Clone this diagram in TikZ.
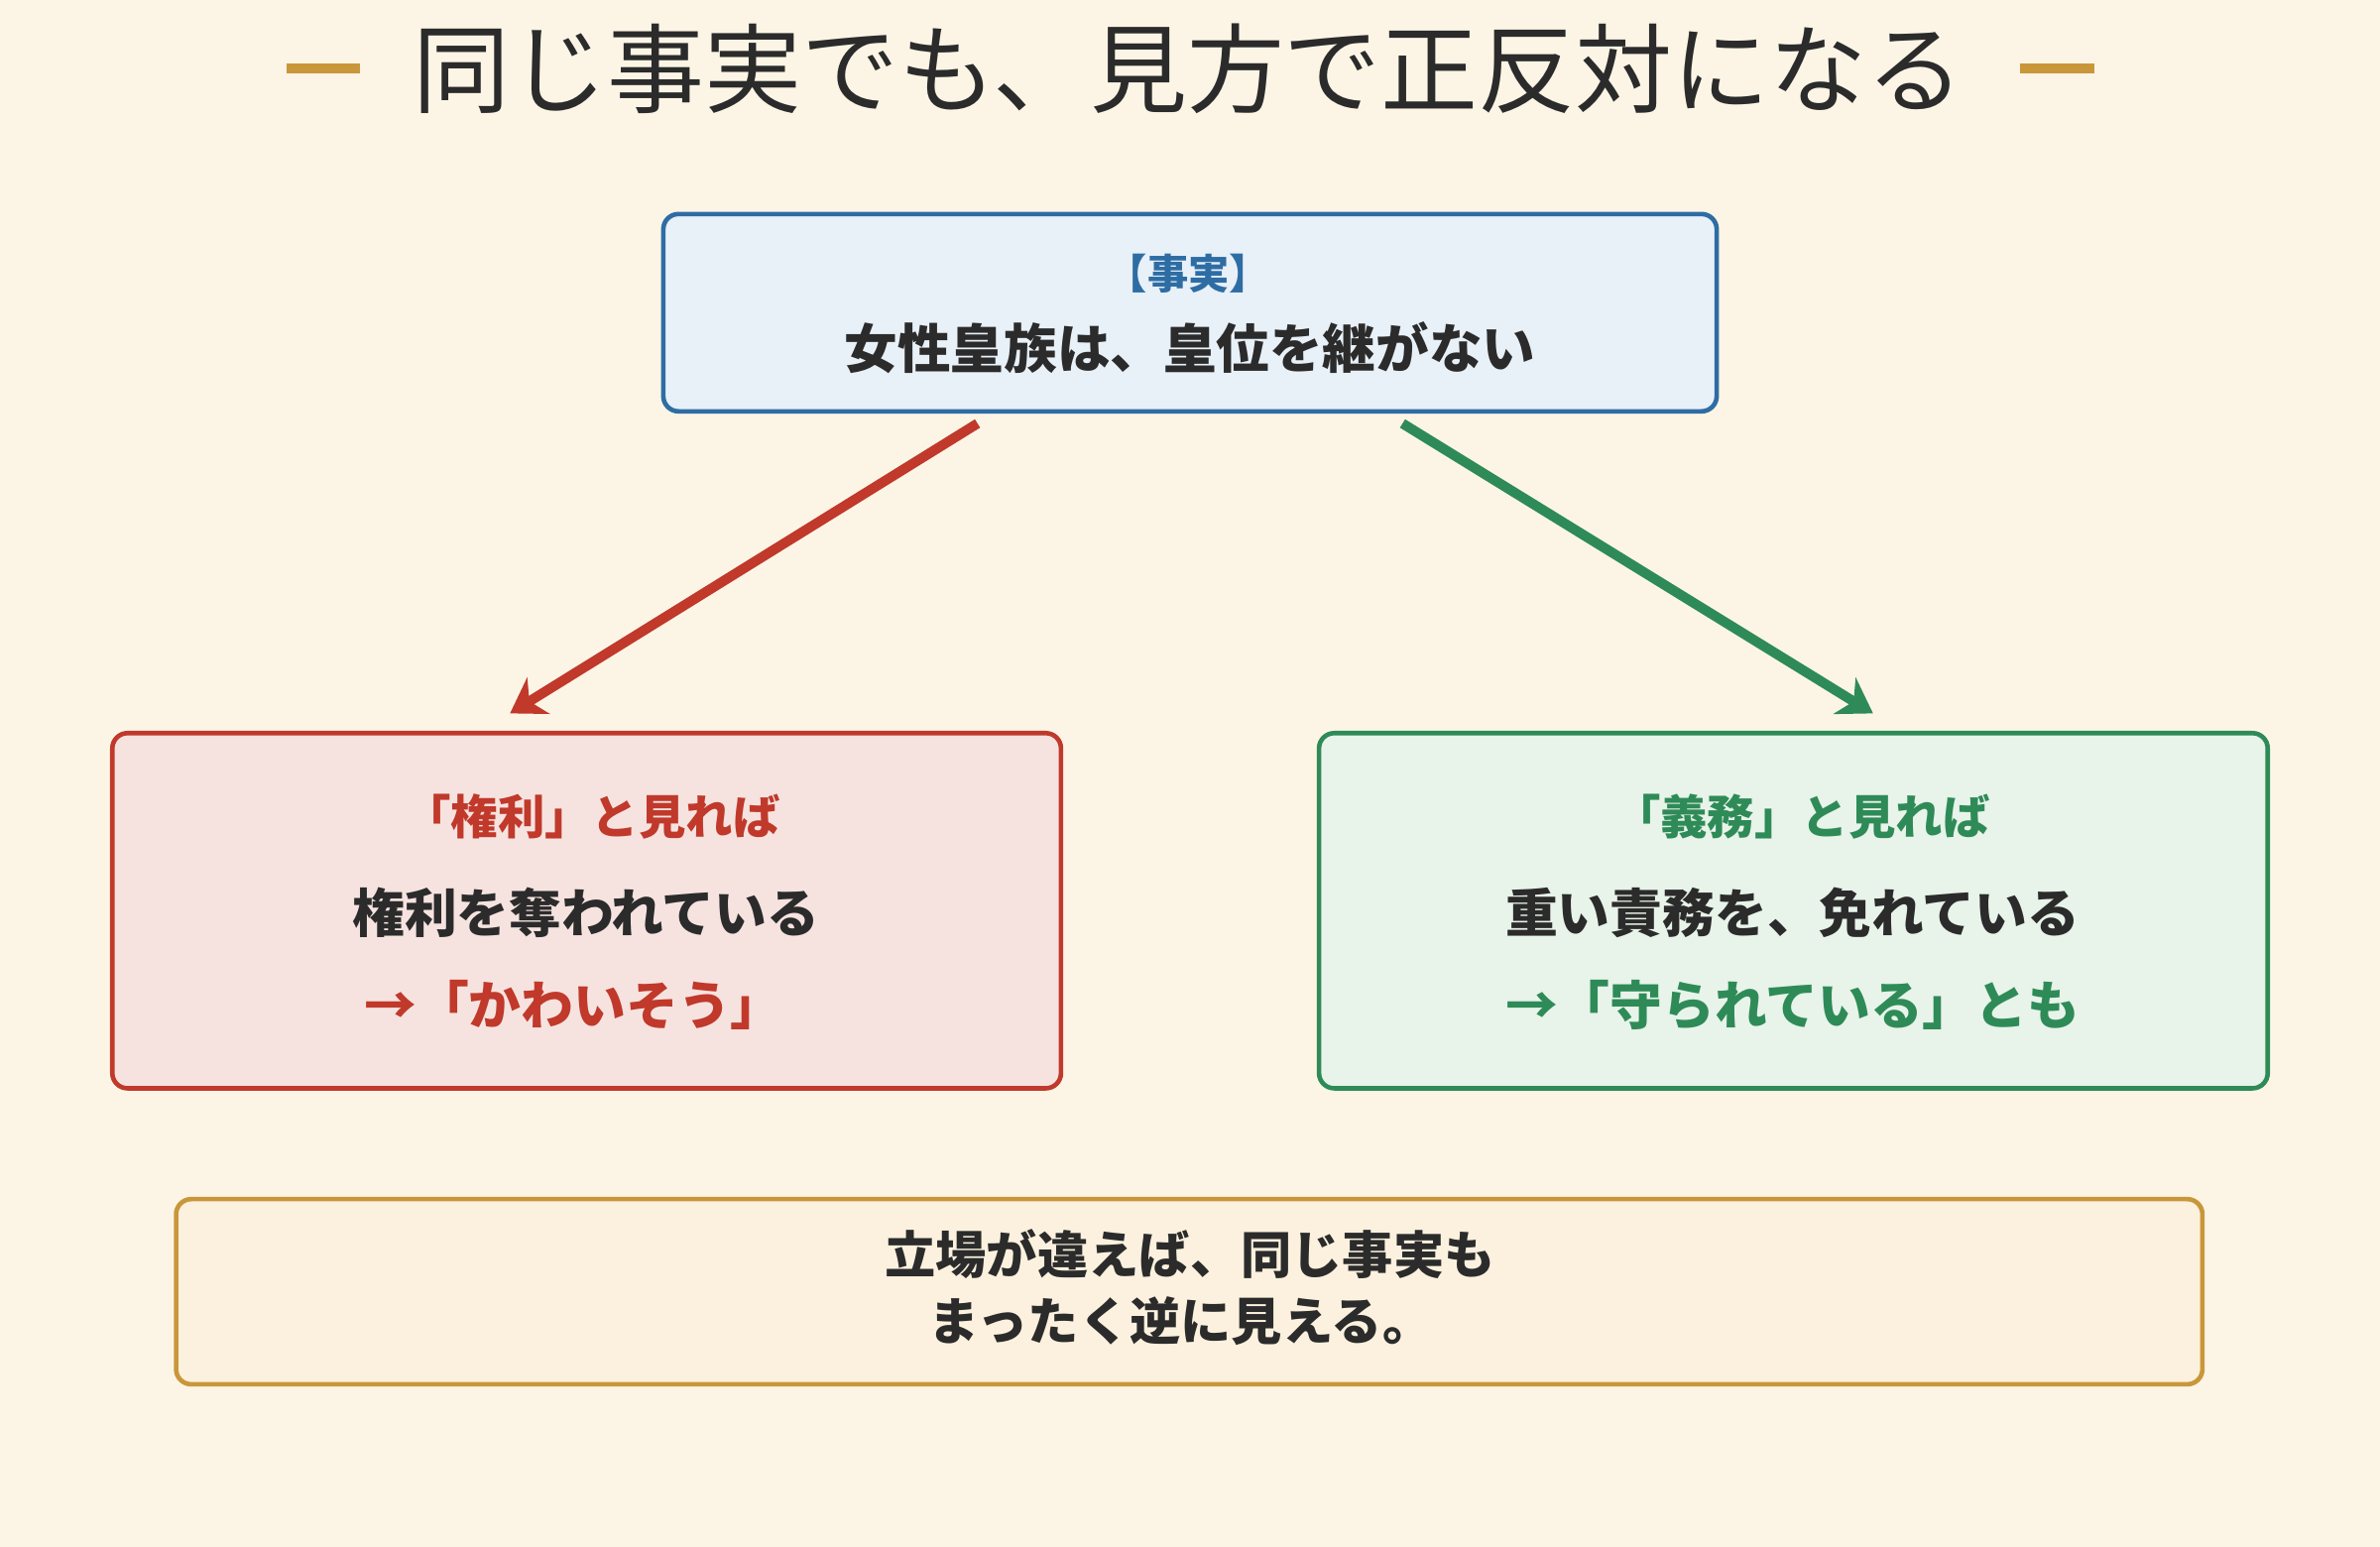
\documentclass[tikz,border=0pt]{standalone}
\usepackage{fontspec}
\setmainfont{Noto Sans CJK JP}
\newfontfamily\cjk{Noto Sans CJK JP}
\usetikzlibrary{arrows.meta}
\definecolor{bg}{HTML}{FCF5E6}
\definecolor{gold}{HTML}{C9973A}
\definecolor{blu}{HTML}{2E6DA4}
\definecolor{blufill}{HTML}{E8F0F8}
\definecolor{rd}{HTML}{C0392B}
\definecolor{rdfill}{HTML}{F6E3E0}
\definecolor{gr}{HTML}{2E8B57}
\definecolor{grfill}{HTML}{E8F3EA}
\definecolor{goldfill}{HTML}{FBF1DE}
\definecolor{ink}{HTML}{2B2B2B}
\begin{document}
\begin{tikzpicture}[x=1pt,y=-1pt,
  box/.style={draw,line width=3pt,rounded corners=10pt,inner sep=0pt},
  t/.style={font=\cjk\bfseries\fontsize{#1}{#1}\selectfont,text=ink,inner sep=0pt},
  arr/.style={line width=6.5pt,-{Stealth[length=22pt,width=28pt,inset=7pt]}}]
\fill[bg] (0,0) rectangle (1568,1019);
\useasboundingbox (0,0) rectangle (1568,1019);
\node[t=64,font=\cjk\fontsize{64}{64}\selectfont] (title) at (783,45) {同じ事実でも、見方で正反対になる};
\draw[gold,line width=7pt] (189,45) -- (237,45);
\draw[gold,line width=7pt] (1331,45) -- (1380,45);
\draw[box,blu,fill=blufill] (437,141) rectangle (1131,271);
\node[t=27,text=blu] (fa) at (783,180) {【事実】};
\node[t=35] (fb) at (784,229) {女性皇族は、皇位を継がない};
\draw[box,rd,fill=rdfill] (74,483) rectangle (699,717);
\node[t=31,text=rd] (l1) at (390,538) {「権利」と見れば};
\node[t=34.5] (l2) at (386,601) {権利を奪われている};
\node[t=34.5,text=rd] (l3) at (378,662) {→「かわいそう」};
\draw[box,gr,fill=grfill] (869,483) rectangle (1494,717);
\node[t=31,text=gr] (r1) at (1187,538) {「義務」と見れば};
\node[t=34.5] (r2) at (1181,601) {重い責務を、免れている};
\node[t=34.5,text=gr] (r3) at (1181,662) {→「守られている」とも};
\draw[box,gold,fill=goldfill] (116,790) rectangle (1451,912);
\node[t=33.5] (b1) at (784,826) {立場が違えば、同じ事実も};
\node[t=33.5] (b2) at (778,870) {まったく逆に見える。};
\coordinate (la) at (644,279); \coordinate (lb) at (336,470);
\coordinate (ra) at (924,279); \coordinate (rb) at (1234,470);
\draw[arr,rd] (la) -- (lb);
\draw[arr,gr] (ra) -- (rb);
\end{tikzpicture}
\end{document}
